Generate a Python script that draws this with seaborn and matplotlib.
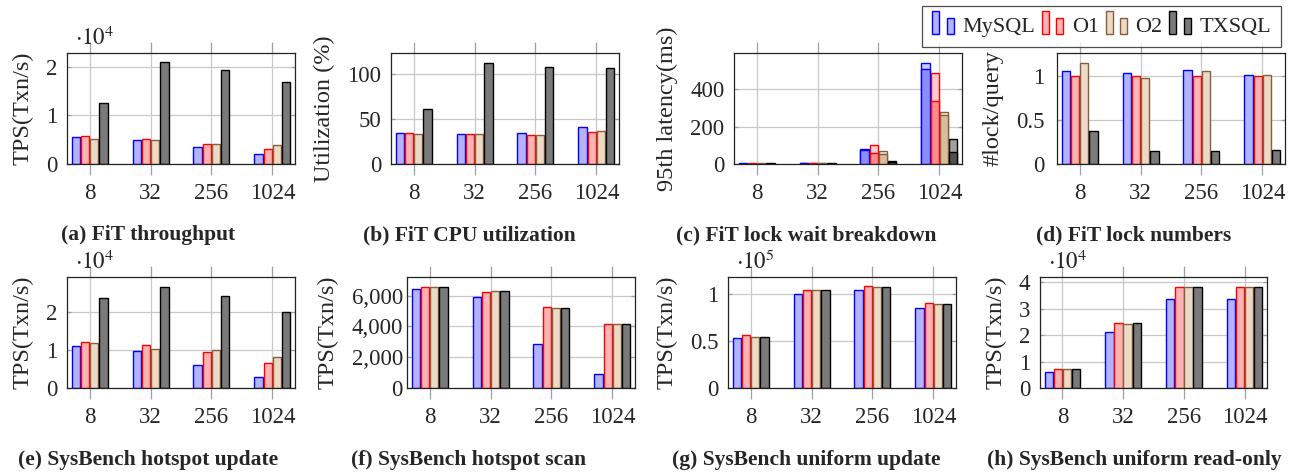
import numpy as np
import pandas as pd
import matplotlib
matplotlib.use("Agg")
import matplotlib.pyplot as plt
import seaborn as sns
from matplotlib.patches import Rectangle
from matplotlib.legend_handler import HandlerBase
from matplotlib.ticker import FuncFormatter

# ---------------- data ----------------
clients = ["8", "32", "256", "1024"]
systems = ["MySQL", "O1", "O2", "TXSQL"]

# rows: MySQL, O1, O2, TXSQL ; columns: clients
fit_throughput = [[5600, 4900, 3450, 2100],
                  [5700, 5100, 4100, 3000],
                  [5200, 5000, 4200, 3900],
                  [12500, 20900, 19400, 16800]]
fit_cpu = [[34, 33.3, 34.8, 41],
           [34, 33.3, 32.2, 35.5],
           [33.7, 33.3, 32.2, 36.3],
           [60.4, 112, 107.4, 106.3]]
fit_latency_total = [[3, 8, 79, 543],
                     [3, 7, 100, 486],
                     [3, 6, 68, 277],
                     [3, 3, 14, 134]]
fit_latency_lockwait = [[2, 6, 74, 511],
                        [2, 5, 61, 337],
                        [2, 4, 54, 261],
                        [2, 2, 10, 64]]
fit_locks = [[1.05, 1.03, 1.064, 1.008],
             [1.0, 1.0, 1.0, 1.0],
             [1.15, 0.98, 1.057, 1.008],
             [0.37, 0.15, 0.144, 0.155]]
sb_hot_update = [[11200, 9700, 6100, 2800],
                 [12200, 11300, 9600, 6600],
                 [11800, 10200, 10000, 8200],
                 [23900, 26700, 24400, 20000]]
sb_hot_scan = [[6450, 5890, 2850, 885],
               [6560, 6240, 5270, 4140],
               [6540, 6280, 5220, 4140],
               [6560, 6280, 5200, 4140]]
sb_uni_update = [[53000, 100000, 104600, 85500],
                 [56400, 104600, 108000, 90400],
                 [54600, 104300, 107400, 89400],
                 [54300, 103900, 107400, 89700]]
sb_uni_readonly = [[6200, 21200, 33600, 33600],
                   [7200, 24600, 38100, 38100],
                   [7100, 24400, 38100, 38200],
                   [7200, 24600, 38100, 38100]]

captions = ["(a) FiT throughput", "(b) FiT CPU utilization",
            "(c) FiT lock wait breakdown", "(d) FiT lock numbers",
            "(e) SysBench hotspot update", "(f) SysBench hotspot scan",
            "(g) SysBench uniform update", "(h) SysBench uniform read-only"]

# ---------------- style ----------------
fills = ["#b3b3ff", "#ffb3b3", "#ecd9c6", "#7a7a7a"]
inner_fills = ["#8c8cff", "#ff8c8c", "#d9bc9c", "#505050"]
light_fills = ["#ccccff", "#ffcccc", "#f2e6d9", "#a0a0a0"]
edges = ["#0000ff", "#ff0000", "#86603a", "#000000"]

sns.set_theme(style="white")
plt.rcParams["font.family"] = ["Liberation Serif", "DejaVu Serif"]
plt.rcParams["mathtext.fontset"] = "stix"
FS = 16.5

W, H = 1297, 473
fig = plt.figure(figsize=(W / 100, H / 100), dpi=100)


def add_ax(x0, x1, ytop, ybot):
    return fig.add_axes([x0 / W, 1 - ybot / H, (x1 - x0) / W, (ybot - ytop) / H])


def long_df(data, scale):
    arr = np.asarray(data, dtype=float) / scale
    return pd.DataFrame({"clients": np.tile(clients, len(systems)),
                         "system": np.repeat(systems, len(clients)),
                         "value": arr.ravel()})


def bars(ax, data, scale, palette):
    n0 = len(ax.containers)
    sns.barplot(data=long_df(data, scale), x="clients", y="value", hue="system",
                order=clients, hue_order=systems, palette=palette, width=0.6,
                gap=0.06, errorbar=None, legend=False, ax=ax, saturation=1,
                linewidth=1.0)
    for cont, ec in zip(ax.containers[n0:], edges):
        for p in cont:
            p.set_edgecolor(ec)


def style(ax, ylim, yticks, ylabel, fmt=None, offset=None, ypad=7):
    ax.set_xlim(-0.37, 3.37)
    ax.set_ylim(*ylim)
    ax.set_yticks(yticks)
    if fmt is not None:
        ax.yaxis.set_major_formatter(FuncFormatter(fmt))
    ax.set_xlabel("")
    ax.set_ylabel(ylabel, fontsize=17.5, labelpad=9)
    ax.grid(True, color="#c8c8c8", lw=0.9)
    ax.set_axisbelow(True)
    ax.tick_params(axis="x", which="major", direction="out", length=8, width=0.9,
                   color="#a0a0a0", top=True, bottom=True, labelsize=FS, pad=6)
    ax.tick_params(axis="y", which="major", direction="in", length=3, width=0.9,
                   color="#a0a0a0", left=True, right=True, labelsize=FS, pad=ypad)
    for s in ax.spines.values():
        s.set_color("#222222")
        s.set_linewidth(0.9)
    if offset is not None:
        ax.text(0.035, 1.03, r"$\cdot10^{%d}$" % offset, transform=ax.transAxes,
                fontsize=FS, ha="left", va="bottom")


def g(v, pos):
    return "%g" % v


def comma(v, pos):
    return "{:,.0f}".format(v)


# top row
ax_a = add_ax(67, 295, 53, 164)
bars(ax_a, fit_throughput, 1e4, fills)
style(ax_a, (0, 2.28), [0, 1, 2], "TPS(Txn/s)", g, offset=4)

ax_b = add_ax(391, 619, 53, 164)
bars(ax_b, fit_cpu, 1, fills)
style(ax_b, (0, 123), [0, 50, 100], "Utilization (%)", g)

ax_c = add_ax(734, 962, 53, 164)
bars(ax_c, fit_latency_total, 1, light_fills)
bars(ax_c, fit_latency_lockwait, 1, inner_fills)
style(ax_c, (0, 595), [0, 200, 400], "95th latency(ms)", g)

ax_d = add_ax(1057, 1285, 53, 164)
bars(ax_d, fit_locks, 1, fills)
style(ax_d, (0, 1.26), [0, 0.5, 1], "#lock/query", g, ypad=9)

# bottom row
ax_e = add_ax(67, 295, 277, 388)
bars(ax_e, sb_hot_update, 1e4, fills)
style(ax_e, (0, 2.94), [0, 1, 2], "TPS(Txn/s)", g, offset=4)

ax_f = add_ax(407, 635, 277, 388)
bars(ax_f, sb_hot_scan, 1, fills)
style(ax_f, (0, 7215), [0, 2000, 4000, 6000], "TPS(Txn/s)", comma, ypad=3)

ax_g = add_ax(728, 956, 277, 388)
bars(ax_g, sb_uni_update, 1e5, fills)
style(ax_g, (0, 1.18), [0, 0.5, 1], "TPS(Txn/s)", g, offset=5)

ax_h = add_ax(1040, 1267, 277, 388)
bars(ax_h, sb_uni_readonly, 1e4, fills)
style(ax_h, (0, 4.2), [0, 1, 2, 3, 4], "TPS(Txn/s)", g, offset=4)

# captions
cap_x = [148, 469, 806, 1134]
for i, cap in enumerate(captions):
    row, col = divmod(i, 4)
    y = 235 if row == 0 else 460
    fig.text(cap_x[col] / W, 1 - y / H, cap, ha="center", va="center",
             fontsize=15.5, fontweight="bold")


# legend with pgfplots-like two-bar icons
class TwoBarHandler(HandlerBase):
    def create_artists(self, legend, orig_handle, xdescent, ydescent, width,
                       height, fontsize, trans):
        fc = orig_handle.get_facecolor()
        ec = orig_handle.get_edgecolor()
        x0 = -xdescent
        y0 = -ydescent - 0.15 * height
        bw = 0.3 * width
        r1 = Rectangle((x0, y0), bw, 1.45 * height, facecolor=fc, edgecolor=ec,
                       lw=1.0, transform=trans)
        r2 = Rectangle((x0 + 0.62 * width, y0), bw, 1.0 * height, facecolor=fc,
                       edgecolor=ec, lw=1.0, transform=trans)
        return [r1, r2]


handles = [Rectangle((0, 0), 1, 1, facecolor=f, edgecolor=e) for f, e in zip(fills, edges)]
leg = fig.legend(handles, systems, loc="upper right",
                 bbox_to_anchor=(1281 / W, 1 - 6 / H), ncol=4, frameon=True,
                 fancybox=False, edgecolor="#222222", fontsize=16,
                 handler_map={Rectangle: TwoBarHandler()}, handlelength=1.05,
                 handletextpad=0.3, columnspacing=0.3, borderpad=0.45,
                 borderaxespad=0)
leg.get_frame().set_linewidth(0.9)

fig.savefig("out.png", dpi=100)
